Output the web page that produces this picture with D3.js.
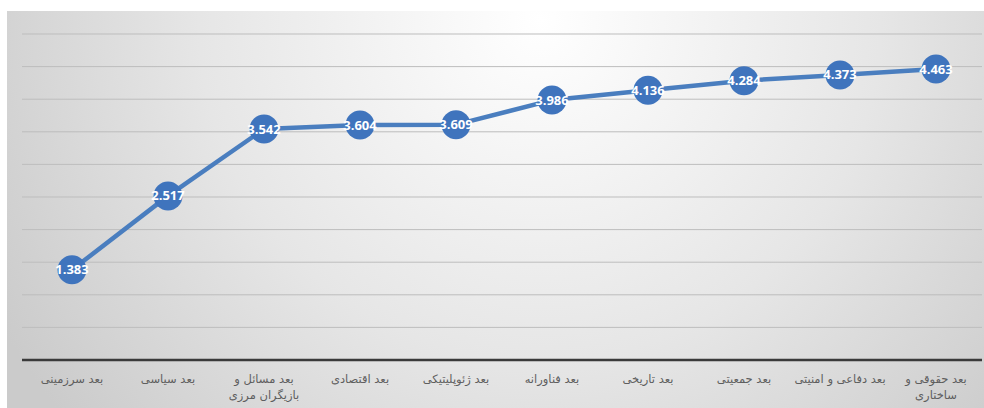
<!DOCTYPE html>
<html><head><meta charset="utf-8">
<script src="https://cdn.jsdelivr.net/npm/d3@7"></script>
<style>html,body{margin:0;padding:0;background:#fff;}svg{display:block;}</style>
</head><body>
<svg id="chart" width="984" height="408"></svg>
<script>
const categories = ["بعد سرزمینی","بعد سیاسی","بعد مسائل و بازیگران مرزی","بعد اقتصادی","بعد ژئوپلیتیکی","بعد فناورانه","بعد تاریخی","بعد جمعیتی","بعد دفاعی و امنیتی","بعد حقوقی و ساختاری"];
const categoryLines = [["بعد سرزمینی"],["بعد سیاسی"],["بعد مسائل و","بازیگران مرزی"],["بعد اقتصادی"],["بعد ژئوپلیتیکی"],["بعد فناورانه"],["بعد تاریخی"],["بعد جمعیتی"],["بعد دفاعی و امنیتی"],["بعد حقوقی و","ساختاری"]];
const values = [1.383,2.517,3.542,3.604,3.609,3.986,4.136,4.284,4.373,4.463];
const labels = ["1.383","2.517","3.542","3.604","3.609","3.986","4.136","4.284","4.373","4.463"];
const gridTicks = [0,0.5,1,1.5,2,2.5,3,3.5,4,4.5,5];

const svg = d3.select("#chart");
const defs = svg.append("defs");
const grad = defs.append("radialGradient").attr("id","bg")
  .attr("gradientUnits","userSpaceOnUse").attr("cx",540).attr("cy",20).attr("r",620);
grad.append("stop").attr("offset","0%").attr("stop-color","#ffffff");
grad.append("stop").attr("offset","55%").attr("stop-color","#e6e6e6");
grad.append("stop").attr("offset","100%").attr("stop-color","#cbcbcb");
svg.append("rect").attr("x",7).attr("y",11).attr("width",977).attr("height",397).attr("fill","url(#bg)");

const x = d3.scalePoint().domain(categories).range([24,984]).padding(0.5);
const y = d3.scaleLinear().domain([0,5]).range([360,34]);

// gridlines
svg.append("g").selectAll("line").data(gridTicks.slice(1)).join("line")
  .attr("x1",22).attr("x2",982).attr("y1",d=>y(d)).attr("y2",d=>y(d))
  .attr("stroke","#bdbdbd").attr("stroke-width",1);

// axis
const axis = svg.append("g").attr("transform","translate(0,360)")
  .call(d3.axisBottom(x).tickSize(0).tickFormat(""));
axis.select(".domain").attr("stroke","#3a3a3a").attr("stroke-width",2.5).attr("d","M22,0H982");

// category labels
const lab = svg.append("g").selectAll("text").data(categories).join("text")
  .attr("x",d=>x(d)).attr("y",383)
  .attr("text-anchor","middle").attr("direction","rtl")
  .attr("font-family","DejaVu Sans, sans-serif").attr("font-size",11.5).attr("fill","#5e5e5e");
lab.each(function(d,i){
  const t = d3.select(this);
  categoryLines[i].forEach((ln,j)=>{
    t.append("tspan").attr("x",x(d)).attr("dy", j===0?0:16).text(ln);
  });
});

// line
const line = d3.line().x((d,i)=>x(categories[i])).y(d=>y(d));
svg.append("path").datum(values).attr("d",line)
  .attr("fill","none").attr("stroke","#4a7ebf").attr("stroke-width",4.5).attr("stroke-linejoin","round");

// markers
svg.append("g").selectAll("circle").data(values).join("circle")
  .attr("cx",(d,i)=>x(categories[i])).attr("cy",d=>y(d)).attr("r",14.5)
  .attr("fill","#3f74bd");

// value labels
svg.append("g").selectAll("text").data(values).join("text")
  .attr("x",(d,i)=>x(categories[i])).attr("y",d=>y(d)+4.5)
  .attr("text-anchor","middle").attr("font-family","Open Sans, sans-serif")
  .attr("font-weight","bold").attr("font-size",13).attr("fill","#ffffff")
  .text((d,i)=>labels[i]);
</script>
</body></html>
